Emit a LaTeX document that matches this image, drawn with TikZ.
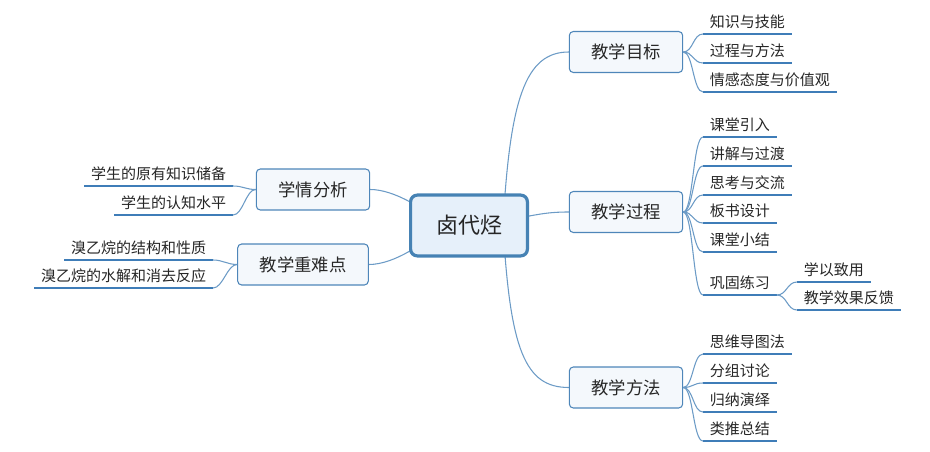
\documentclass[tikz,border=0pt]{standalone}
\usepackage{fontspec}
\setmainfont{Noto Sans CJK SC}
\usetikzlibrary{backgrounds}
\definecolor{linkblue}{HTML}{6C9BC6}
\definecolor{lineblue}{HTML}{3F7DB8}
\definecolor{boxline}{HTML}{4E86B9}
\definecolor{boxfill}{HTML}{F4F8FC}
\definecolor{rootfill}{HTML}{E6F0FA}
\definecolor{rootline}{HTML}{4682B4}
\definecolor{inkgray}{HTML}{262626}
\tikzset{
  topic/.style={draw=boxline,fill=boxfill,rounded corners=3pt,line width=0.8pt,
    font=\fontsize{13}{15}\selectfont,text=inkgray,inner xsep=16.5pt,minimum height=30.75pt},
  leaf/.style={font=\fontsize{11.25}{13}\selectfont,text=inkgray,inner xsep=5pt,
    inner ysep=1pt,text height=9pt,text depth=3.5pt},
  link/.style={draw=linkblue,line width=0.8pt},
  uline/.style={draw=lineblue,line width=0.9pt}
}
\begin{document}
\begin{tikzpicture}[x=0.75pt,y=-0.75pt]
\useasboundingbox (0,0) rectangle (930,452);
% centre and main topics
\node[draw=rootline,fill=rootfill,line width=2.4pt,rounded corners=5pt,minimum width=87.6pt,
  minimum height=45.6pt,font=\fontsize{16.5}{18}\selectfont,text=inkgray] (root) at (469,225.5) {卤代烃};
\coordinate (hubR) at (503,225); \coordinate (hubE) at (499,222);
\coordinate (hubL) at (440,222); \coordinate (hubB) at (440,230);
\node[topic] (goal) at (626,52) {教学目标};
\node[topic] (proc) at (626,212) {教学过程};
\node[topic] (meth) at (626,387.5) {教学方法};
\node[topic] (stud) at (313,189.5) {学情分析};
\node[topic] (keyp) at (303,264.5) {教学重难点};
\begin{scope}[on background layer]
\draw[link] (hubR) .. controls (510,100) and (525,52) .. (goal.west);
\draw[link] (hubE) .. controls (535,215) and (545,212) .. (proc.west);
\draw[link] (hubR) .. controls (510,350) and (525,387.5) .. (meth.west);
\draw[link] (stud.east) .. controls (395,189.5) and (425,210) .. (hubL);
\draw[link] (keyp.east) .. controls (395,264.5) and (425,242) .. (hubB);
\end{scope}
% right branches
\foreach \i/\y/\t in {1/34/知识与技能,2/63/过程与方法,3/92/情感态度与价值观}{
  \node[leaf,anchor=south west] (goal\i) at (703,\y) {\t};
  \draw[uline] (goal\i.south west) -- (goal\i.south east);
  \draw[link] (goal.east) .. controls +(10,0) and +(-10,0) .. (goal\i.south west);
}
\foreach \i/\y/\t in {1/137/课堂引入,2/166/讲解与过渡,3/195/思考与交流,4/223/板书设计,5/252/课堂小结,6/295/巩固练习}{
  \node[leaf,anchor=south west] (proc\i) at (703,\y) {\t};
  \draw[uline] (proc\i.south west) -- (proc\i.south east);
  \draw[link] (proc.east) .. controls +(10,0) and +(-10,0) .. (proc\i.south west);
}
\foreach \i/\y/\t in {1/282/学以致用,2/310/教学效果反馈}{
  \node[leaf,anchor=south west] (drill\i) at (797,\y) {\t};
  \draw[uline] (drill\i.south west) -- (drill\i.south east);
  \draw[link] (proc6.south east) .. controls +(10,0) and +(-10,0) .. (drill\i.south west);
}
\foreach \i/\y/\t in {1/354/思维导图法,2/383/分组讨论,3/412/归纳演绎,4/441/类推总结}{
  \node[leaf,anchor=south west] (meth\i) at (703,\y) {\t};
  \draw[uline] (meth\i.south west) -- (meth\i.south east);
  \draw[link] (meth.east) .. controls +(10,0) and +(-10,0) .. (meth\i.south west);
}
% left branches
\foreach \i/\y/\t in {1/186/学生的原有知识储备,2/215/学生的认知水平}{
  \node[leaf,anchor=south east] (stud\i) at (233,\y) {\t};
  \draw[uline] (stud\i.south west) -- (stud\i.south east);
  \draw[link] (stud.west) .. controls +(-10,0) and +(10,0) .. (stud\i.south east);
}
\foreach \i/\y/\t in {1/260/溴乙烷的结构和性质,2/288/溴乙烷的水解和消去反应}{
  \node[leaf,anchor=south east] (keyp\i) at (213,\y) {\t};
  \draw[uline] (keyp\i.south west) -- (keyp\i.south east);
  \draw[link] (keyp.west) .. controls +(-10,0) and +(10,0) .. (keyp\i.south east);
}
\end{tikzpicture}
\end{document}
